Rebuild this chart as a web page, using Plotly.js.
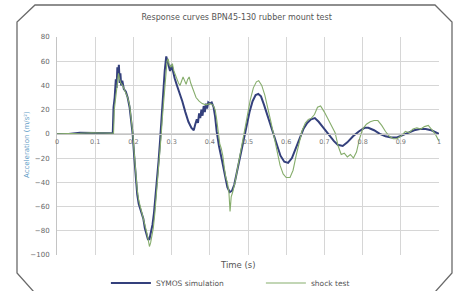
<!DOCTYPE html>
<html>
<head>
<meta charset="utf-8">
<script src="https://cdn.plot.ly/plotly-3.0.1.min.js"></script>
<style>
  html, body { margin:0; padding:0; background:#ffffff; }
  #wrap { position:relative; width:464px; height:291px; overflow:hidden; }
  #frame { position:absolute; left:0; top:0; }
  #chart { position:absolute; left:0; top:0; width:464px; height:291px; }
</style>
</head>
<body>
<div id="wrap">
<svg id="frame" width="464" height="291">
  <polyline points="34,292 17,273 17,22 35,5 435,5 452,22 452,273 435,292" fill="#ffffff" stroke="#6a6a6a" stroke-width="1.3"/>
</svg>
<div id="chart"></div>
</div>
<script>
const chartTitle = "Response curves BPN45-130 rubber mount test";
const xTitle = "Time (s)";
const yTitle = "Acceleration (m/s²)";
const seriesNames = ["SYMOS simulation", "shock test"];
const xTickVals = [0,0.1,0.2,0.3,0.4,0.5,0.6,0.7,0.8,0.9,1];
const xTickText = ["0","0.1","0.2","0.3","0.4","0.5","0.6","0.7","0.8","0.9","1"];

const simT = [0,0.03,0.06,0.09,0.12,0.146,0.148,0.151,0.154,0.156,0.158,0.160,0.162,0.164,0.166,0.168,0.171,0.175,0.180,0.185,0.190,0.194,0.198,0.202,0.206,0.210,0.214,0.218,0.222,0.226,0.230,0.234,0.238,0.242,0.246,0.250,0.254,0.258,0.262,0.266,0.270,0.274,0.278,0.282,0.286,0.289,0.292,0.296,0.300,0.304,0.308,0.314,0.320,0.328,0.336,0.344,0.352,0.358,0.362,0.366,0.369,0.372,0.375,0.378,0.381,0.384,0.387,0.390,0.393,0.396,0.400,0.405,0.410,0.414,0.418,0.424,0.432,0.440,0.446,0.452,0.458,0.464,0.472,0.480,0.488,0.496,0.504,0.512,0.520,0.527,0.534,0.542,0.550,0.558,0.566,0.575,0.585,0.595,0.605,0.615,0.625,0.635,0.645,0.655,0.665,0.675,0.685,0.695,0.705,0.715,0.725,0.735,0.748,0.760,0.775,0.790,0.805,0.815,0.830,0.845,0.860,0.875,0.890,0.905,0.920,0.935,0.950,0.965,0.980,1.0];
const simV = [0,0,1,1,0.5,0.5,22,30,45,38,55,48,57,42,50,40,44,37,35,30,22,12,0,-18,-35,-50,-58,-62,-66,-70,-78,-84,-87,-87,-82,-75,-65,-52,-38,-22,-5,15,35,52,64,60,55,52,57,50,46,40,35,27,18,10,5,3,8,12,9,17,13,20,15,23,18,25,21,26,25,26,22,14,2,-10,-22,-35,-44,-48,-47,-42,-30,-18,-6,6,18,27,32,33,31,24,16,8,0,-10,-18,-23,-24,-20,-12,-3,4,9,12,13,10,6,2,-2,-6,-9,-10,-7,-2,2,5,5,3,0,-2,-3,-3,-1,1,3,4,4,3,0];

const testT = [0,0.03,0.06,0.09,0.12,0.148,0.150,0.154,0.158,0.161,0.164,0.167,0.172,0.178,0.185,0.190,0.194,0.198,0.202,0.206,0.210,0.214,0.218,0.222,0.226,0.230,0.234,0.238,0.242,0.245,0.248,0.252,0.256,0.260,0.264,0.268,0.272,0.276,0.280,0.284,0.288,0.291,0.294,0.298,0.302,0.306,0.312,0.318,0.322,0.326,0.330,0.334,0.338,0.342,0.346,0.350,0.356,0.364,0.372,0.380,0.390,0.400,0.408,0.414,0.418,0.422,0.426,0.430,0.434,0.438,0.442,0.446,0.450,0.453,0.456,0.460,0.466,0.474,0.482,0.490,0.498,0.506,0.514,0.522,0.528,0.536,0.544,0.552,0.560,0.568,0.576,0.584,0.592,0.600,0.610,0.618,0.626,0.634,0.642,0.650,0.658,0.666,0.674,0.682,0.690,0.700,0.710,0.720,0.728,0.736,0.744,0.752,0.760,0.768,0.776,0.784,0.792,0.800,0.810,0.820,0.830,0.840,0.850,0.860,0.870,0.880,0.890,0.900,0.912,0.922,0.932,0.942,0.952,0.962,0.972,0.980,0.990,1.0];
const testV = [0,0,0.5,1,0.5,0.5,20,32,42,50,45,42,40,36,30,24,14,2,-15,-32,-46,-55,-60,-64,-68,-74,-80,-86,-93,-90,-85,-78,-66,-52,-36,-20,-4,14,32,48,60,62,57,55,58,52,46,42,40,44,47,44,41,45,47,42,36,30,27,25,24,25,24,20,12,2,-8,-12,-18,-28,-36,-40,-48,-64,-52,-48,-40,-26,-12,2,16,28,38,43,44,40,32,22,10,-2,-14,-26,-33,-36,-36,-30,-18,-6,3,9,12,13,16,22,23,18,12,6,1,-10,-17,-16,-19,-17,-20,-15,-4,4,8,10,11,11,7,2,-2,-4,-4,-2,2,1,4,5,4,6,7,4,0,-6];

const fontFam = "DejaVu Sans, Liberation Sans, Arial, sans-serif";

const traces = [
  { x: simT, y: simV, type: 'scatter', mode: 'lines', name: seriesNames[0],
    line: { color: '#34407c', width: 2 } },
  { x: testT, y: testV, type: 'scatter', mode: 'lines', name: seriesNames[1],
    line: { color: '#86ad6c', width: 1.1 } }
];

const layout = {
  width: 464, height: 291,
  paper_bgcolor: 'rgba(0,0,0,0)',
  plot_bgcolor: '#ffffff',
  margin: { l: 57, r: 25, t: 37, b: 36, autoexpand: false },
  font: { family: fontFam, size: 7, color: '#555555' },
  title: { text: chartTitle, x: 0.51, xanchor: 'center', y: 0.94, yanchor: 'middle',
           font: { family: fontFam, size: 8, color: '#555555' } },
  xaxis: {
    range: [0, 1], tickvals: xTickVals, ticktext: xTickText,
    showgrid: true, gridcolor: '#d6d6d6', gridwidth: 1,
    zeroline: false, showline: true, linecolor: '#c4c4c4', linewidth: 1,
    anchor: 'free', position: 100/180,
    ticks: '', ticklabelstandoff: 1,
    tickfont: { family: fontFam, size: 6.5, color: '#777777' }
  },
  yaxis: {
    range: [-100, 80], dtick: 20, tick0: 0,
    showgrid: true, gridcolor: '#d6d6d6', gridwidth: 1,
    zeroline: false, showline: true, linecolor: '#c4c4c4', linewidth: 1,
    mirror: false, ticks: '', ticklabelstandoff: 5,
    tickfont: { family: fontFam, size: 7, color: '#666666' }
  },
  annotations: [
    { text: xTitle, xref: 'paper', yref: 'paper', x: (238-57)/382, y: (255-265)/218,
      xanchor: 'center', yanchor: 'middle', showarrow: false,
      font: { family: fontFam, size: 8.5, color: '#555555' } },
    { text: yTitle, xref: 'paper', yref: 'paper', x: (27-57)/382, y: (255-145)/218,
      xanchor: 'center', yanchor: 'middle', showarrow: false, textangle: -90,
      font: { family: fontFam, size: 7, color: '#5f9cc6' } }
  ],
  showlegend: true,
  legend: {
    orientation: 'h', x: 0.128, xanchor: 'left', y: (255-283)/218, yanchor: 'middle',
    itemwidth: 40, entrywidth: 100, entrywidthmode: 'pixels',
    font: { family: fontFam, size: 7.5, color: '#555555' },
    bgcolor: 'rgba(0,0,0,0)'
  }
};

Plotly.newPlot('chart', traces, layout, { displayModeBar: false, staticPlot: true });
</script>
</body>
</html>
